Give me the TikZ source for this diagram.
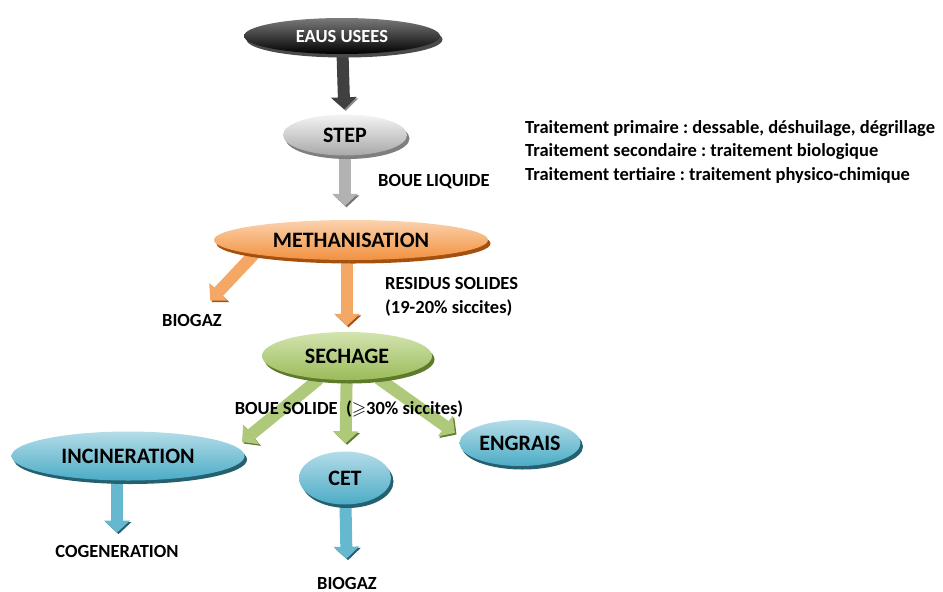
\documentclass[tikz,border=0pt]{standalone}
\usepackage{fontspec}
\setmainfont{Carlito}
\usepackage{amssymb}
\usetikzlibrary{shapes.geometric,arrows.meta,shadows,backgrounds}
\frenchspacing

% Colours of the ellipses and arrows
\definecolor{eausTop}{HTML}{7A7A7A}
\definecolor{eausShade}{HTML}{4A4A4A}
\definecolor{stepTop}{HTML}{F4F4F4}
\definecolor{stepBot}{HTML}{A8A8A8}
\definecolor{stepShade}{HTML}{7F7F7F}
\definecolor{methTop}{HTML}{FBD2AE}
\definecolor{methBot}{HTML}{F2913F}
\definecolor{methShade}{HTML}{A4510F}
\definecolor{sechTop}{HTML}{D3E4B0}
\definecolor{sechBot}{HTML}{9BBB59}
\definecolor{sechShade}{HTML}{5F7A2B}
\definecolor{blueTop}{HTML}{B4DCE8}
\definecolor{blueBot}{HTML}{4BACC6}
\definecolor{blueShade}{HTML}{24606F}

\tikzset{
  blob/.style n args={3}{ellipse, inner sep=0pt, top color=#1, bottom color=#2,
    general shadow={fill=#3, shadow xshift=2.5pt, shadow yshift=-3.5pt},
    font=\bfseries\fontsize{22}{24}\selectfont},
  lbl/.style={inner sep=0pt, font=\bfseries\fontsize{18.5}{23.5}\selectfont},
  fat/.style 2 args={draw=#1, line width=12pt, -{Triangle[width=25pt,length=12pt]},
    preaction={draw=#2, transform canvas={shift={(1.5pt,-1.5pt)}}}},
}

\begin{document}
\begin{tikzpicture}[x=1pt,y=-1pt]
  % Fix the page size
  \useasboundingbox (0,0) rectangle (943,592);

  % Place the ellipses
  \node[blob={eausTop}{black}{eausShade}, minimum width=196pt, minimum height=36pt,
        text=white, font=\bfseries\fontsize{18.5}{20}\selectfont] (eaus) at (342,36) {EAUS USEES};
  \node[blob={stepTop}{stepBot}{stepShade}, minimum width=124pt, minimum height=41pt] (step) at (345,135) {STEP};
  \node[blob={methTop}{methBot}{methShade}, minimum width=274pt, minimum height=40pt] (meth) at (351,240) {METHANISATION};
  \node[blob={sechTop}{sechBot}{sechShade}, minimum width=170pt, minimum height=48pt] (sech) at (347,356) {SECHAGE};
  \node[blob={blueTop}{blueBot}{blueShade}, minimum width=233pt, minimum height=49pt] (incin) at (128,456) {INCINERATION};
  \node[blob={blueTop}{blueBot}{blueShade}, minimum width=92pt, minimum height=53pt] (cet) at (345,478) {CET};
  \node[blob={blueTop}{blueBot}{blueShade}, minimum width=121pt, minimum height=46pt] (engrais) at (520,443) {ENGRAIS};

  % Labels
  \node[lbl, anchor=west] (liquide) at (378,182) {BOUE LIQUIDE};
  \node[lbl] (biogazA) at (192,320) {BIOGAZ};
  \node[lbl, anchor=west, align=left] (residus) at (385,297) {RESIDUS SOLIDES\\(19-20\% siccites)};
  \node[lbl] (cogen) at (117,551) {COGENERATION};
  \node[lbl] (biogazB) at (347,583) {BIOGAZ};
  \node[lbl, anchor=north west, align=left] (legend) at (525,120)
    {Traitement primaire : dessable, déshuilage, dégrillage\\
     Traitement secondaire : traitement biologique\\
     Traitement tertiaire : traitement physico-chimique};

  % Tips of the free arrows
  \coordinate (incinTip) at (242,442);
  \coordinate (engraisTip) at (455,433);

  % Draw the arrows behind the ellipses
  \begin{scope}[on background layer]
    \draw[fat={black!75}{black!45}, shorten >=5pt] (eaus) -- (step);
    \draw[fat={black!30}{black!55}, shorten >=14pt] (step) -- (step |- meth.north);
    \draw[fat={methBot!80}{methShade}, shorten >=18pt] (meth.south west) -- (biogazA);
    \draw[fat={methBot!80}{methShade}, shorten >=6pt] (sech |- meth.south) -- (sech);
    \draw[fat={sechBot!80}{sechShade}] (sech) -- (incinTip);
    \draw[fat={sechBot!80}{sechShade}, shorten >=8pt] (sech) -- (cet);
    \draw[fat={sechBot!80}{sechShade}] (sech) -- (engraisTip);
    \draw[fat={blueBot!85}{blueShade}, shorten >=12pt] (cogen |- incin.south) -- (cogen);
    \draw[fat={blueBot!85}{blueShade}, shorten >=18pt] (cet) -- (biogazB);
  \end{scope}

  % Label over the green arrows
  \node[lbl] (solide) at (349,409) {BOUE SOLIDE\ \ ($\geqslant$30\% siccites)};
\end{tikzpicture}
\end{document}
